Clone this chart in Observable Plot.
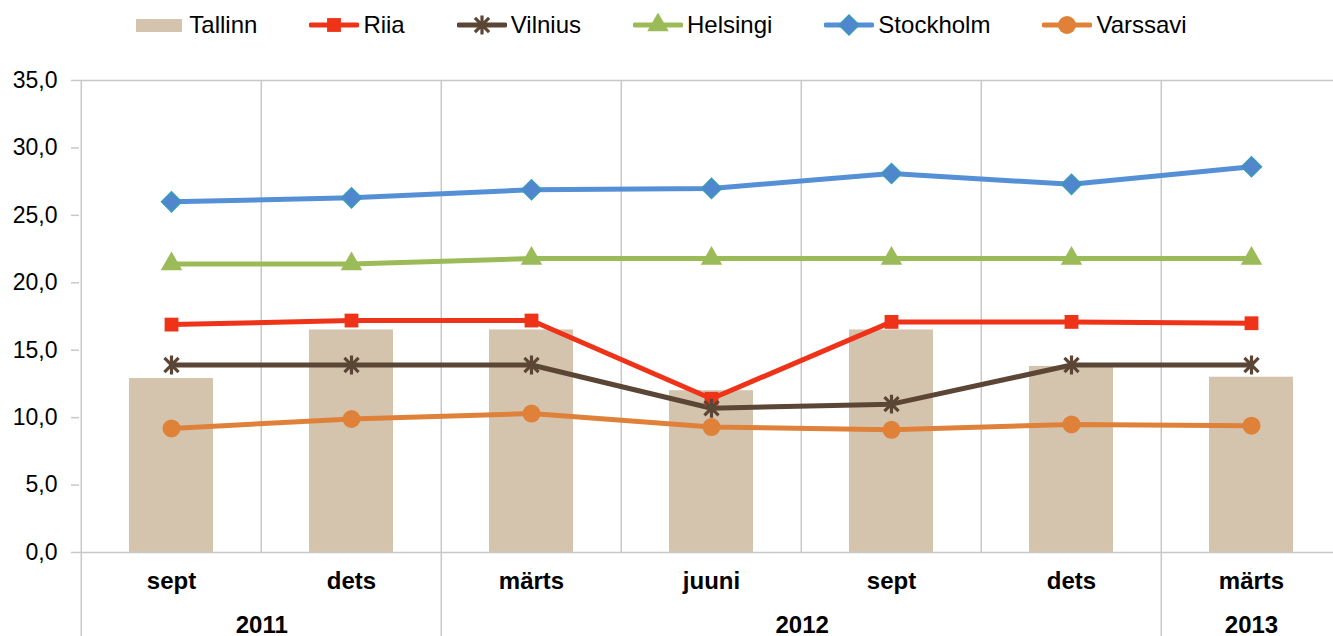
<!DOCTYPE html>
<html><head><meta charset="utf-8">
<script src="https://cdn.jsdelivr.net/npm/d3@7"></script>
<script src="https://cdn.jsdelivr.net/npm/@observablehq/plot@0.6"></script>
<style>
body{margin:0;background:#fff;overflow:hidden;font-family:"Liberation Sans",Arial,sans-serif}
#legend{height:50px;display:flex;justify-content:center;align-items:center;gap:52px;font-size:24px;color:#000;padding-right:10px}
.item{display:flex;align-items:center;gap:4px}
.item svg{display:block}
</style></head><body>
<div id="legend"></div><div id="chart"></div>
<script>
// ---- data ----
const months = ["sept","dets","märts","juuni","sept","dets","märts"];
const years  = ["2011","2011","2012","2012","2012","2012","2013"];
const tallinn   = [12.9, 16.5, 16.5, 12.0, 16.5, 13.8, 13.0];
const riia      = [16.9, 17.2, 17.2, 11.4, 17.1, 17.1, 17.0];
const vilnius   = [13.9, 13.9, 13.9, 10.7, 11.0, 13.9, 13.9];
const helsingi  = [21.4, 21.4, 21.8, 21.8, 21.8, 21.8, 21.8];
const stockholm = [26.0, 26.3, 26.9, 27.0, 28.1, 27.3, 28.6];
const varssavi  = [9.2, 9.9, 10.3, 9.3, 9.1, 9.5, 9.4];
const yTicks = [0, 5, 10, 15, 20, 25, 30, 35];

// ---- layout / style ----
const W = 1333, H = 586, left = 79, rightEdge = 1342;
const step = (rightEdge - left) / months.length;
const keys = months.map((m, i) => m + " " + years[i]);
const barColor = "#D5C4AD";
const grid = "#C8C8C8";
const font = "Liberation Sans, Arial, sans-serif";

const star = {draw(ctx, size) {
  const r = Math.sqrt(size) * 0.56, d = r * 0.75;
  ctx.moveTo(0, -r); ctx.lineTo(0, r);
  ctx.moveTo(-d, -d); ctx.lineTo(d, d);
  ctx.moveTo(-d, d); ctx.lineTo(d, -d);
}};

const series = [
  {name: "Riia", values: riia, color: "#EE3319", symbol: "square", r: 7.8, fill: "#EE3319", stroke: "none", sw: 0},
  {name: "Vilnius", values: vilnius, color: "#5B4636", symbol: star, r: 9.5, fill: "none", stroke: "#5B4636", sw: 3.2},
  {name: "Helsingi", values: helsingi, color: "#9BBB59", symbol: "triangle", r: 8, fill: "#9BBB59", stroke: "none", sw: 0},
  {name: "Stockholm", values: stockholm, color: "#5590D6", symbol: "diamond2", r: 9, fill: "#4F86CE", stroke: "#3A9BB8", sw: 1.5},
  {name: "Varssavi", values: varssavi, color: "#E0813A", symbol: "circle", r: 9, fill: "#E0813A", stroke: "none", sw: 0}
];

const barData = keys.map((k, i) => ({k, v: tallinn[i]}));

const marks = [];
marks.push(Plot.barY(barData, {x: "k", y: "v", fill: barColor, insetLeft: 48, insetRight: 48}));
marks.push(Plot.ruleX(keys.slice(1), {x: d => d, y1: 0, y2: 35, dx: -step / 2, stroke: grid, strokeWidth: 1.5}));
marks.push(Plot.ruleX([keys[0]], {x: d => d, dx: -step / 2, insetBottom: -84, stroke: grid, strokeWidth: 1.5}));
const groups = d3.groups(keys.map((k, i) => ({k, year: years[i]})), d => d.year);
marks.push(Plot.ruleX(groups.slice(1).map(g => g[1][0].k), {x: d => d, y1: 0, y2: 0, insetBottom: -84, dx: -step / 2, stroke: grid, strokeWidth: 1.5}));
marks.push(Plot.ruleY([0, 35], {stroke: grid, strokeWidth: 1.5}));

for (const s of series) {
  const data = keys.map((k, i) => ({k, v: s.values[i]}));
  marks.push(Plot.line(data, {x: "k", y: "v", stroke: s.color, strokeWidth: 5, strokeLinejoin: "round"}));
}
for (const s of series) {
  const data = keys.map((k, i) => ({k, v: s.values[i]}));
  marks.push(Plot.dot(data, {x: "k", y: "v", symbol: s.symbol, r: s.r, fill: s.fill, stroke: s.stroke, strokeWidth: s.sw}));
}

marks.push(Plot.axisY({ticks: yTicks, tickSize: 8, tickPadding: 14, tickFormat: d => d.toFixed(1).replace(".", ","),
  fontSize: 23, stroke: grid, strokeWidth: 1.5, fill: "#000", label: null}));
marks.push(Plot.axisX({tickSize: 0, tickPadding: 19, tickFormat: k => k.split(" ")[0], fontSize: 24, fontWeight: "bold", fill: "#000", label: null}));
for (const [year, items] of groups) {
  marks.push(Plot.text([year], {x: () => items[0].k, text: d => d, frameAnchor: "bottom", dy: 63, dx: (items.length - 1) * step / 2,
    lineAnchor: "top", fontSize: 24, fontWeight: "bold", fill: "#000"}));
}

const chart = Plot.plot({
  width: W, height: H, marginTop: 30, marginBottom: 84, marginLeft: left, marginRight: 0,
  style: {fontFamily: font, background: "#fff", overflow: "visible"},
  x: {type: "band", domain: keys, range: [left, rightEdge], padding: 0, axis: null},
  y: {domain: [0, 35], axis: null},
  marks
});
document.getElementById("chart").appendChild(chart);

// ---- legend ----
const legend = d3.select("#legend");
const t1 = legend.append("div").attr("class", "item");
t1.append("div").style("width", "46px").style("height", "13px").style("background", barColor);
t1.append("span").style("margin-left", "3px").text("Tallinn");
for (const s of series) {
  const it = legend.append("div").attr("class", "item");
  const svg = it.append("svg").attr("width", 50).attr("height", 24);
  svg.append("line").attr("x1", 2).attr("x2", 48).attr("y1", 12).attr("y2", 12).attr("stroke", s.color).attr("stroke-width", 5).attr("stroke-linecap", "round");
  const sym = typeof s.symbol === "string" ? {square: d3.symbolSquare, triangle: d3.symbolTriangle, diamond2: d3.symbolDiamond2, circle: d3.symbolCircle}[s.symbol] : s.symbol;
  svg.append("path").attr("transform", "translate(25,12)").attr("d", d3.symbol(sym, Math.PI * s.r * s.r)())
    .attr("fill", s.fill).attr("stroke", s.stroke).attr("stroke-width", s.sw);
  it.append("span").text(s.name);
}
</script>
</body></html>
